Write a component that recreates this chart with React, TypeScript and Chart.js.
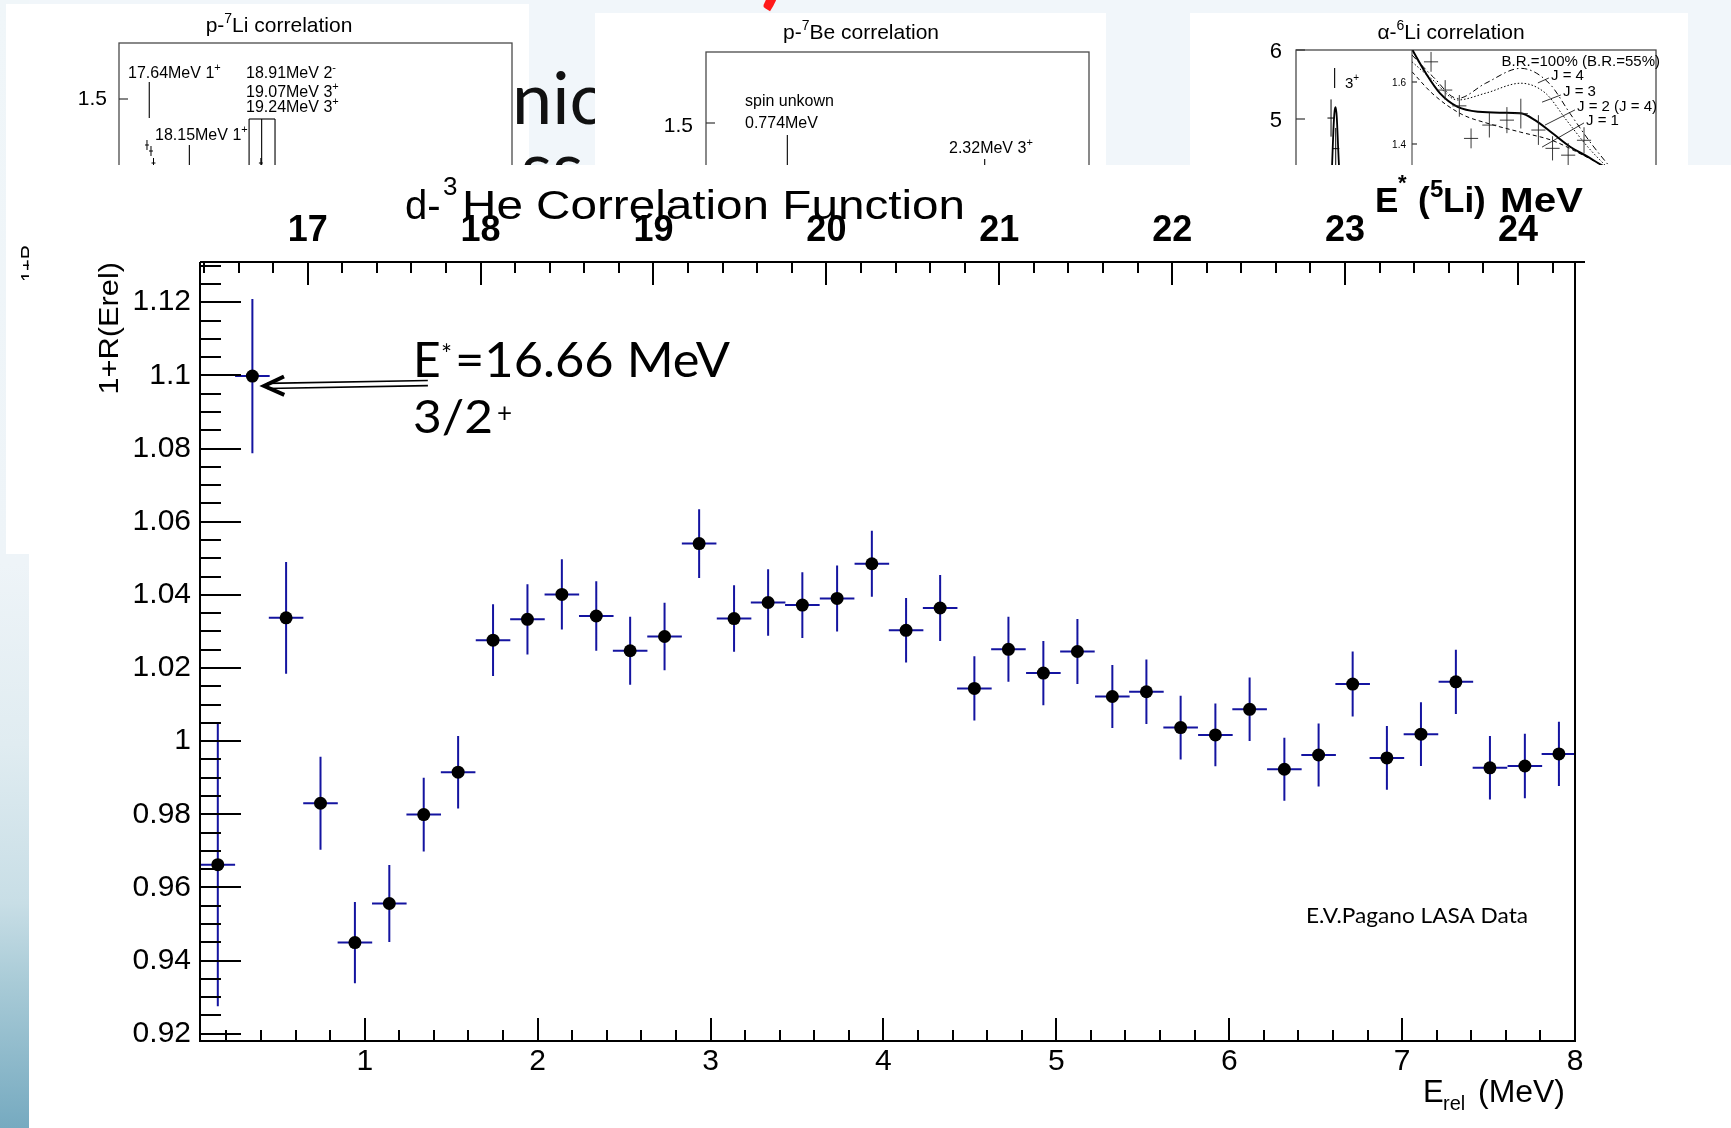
import React, { useEffect, useRef } from "react";
import { Chart, registerables } from "chart.js";

Chart.register(...registerables);

const SANS = '"Liberation Sans", Arial, Helvetica, sans-serif';
const SLIDE = 'Lato, "Open Sans", sans-serif';
const ERR_BLUE = "#1414a0";

Chart.defaults.font.family = SANS;
Chart.defaults.color = "#000";

// ---------- d-3He correlation function (0.2 MeV bins) ----------
const eRel = [
  0.15, 0.35, 0.545, 0.744, 0.943, 1.142, 1.341, 1.54, 1.742, 1.941,
  2.14, 2.339, 2.535, 2.734, 2.934, 3.136, 3.333, 3.531, 3.732, 3.933,
  4.131, 4.328, 4.526, 4.723, 4.925, 5.122, 5.324, 5.521, 5.719, 5.92,
  6.118, 6.319, 6.517, 6.714, 6.912, 7.109, 7.311, 7.508, 7.71, 7.907,
];
const corr = [
  0.9662, 1.0998, 1.0337, 0.983, 0.9449, 0.9556, 0.9799, 0.9915, 1.0276, 1.0333,
  1.0401, 1.0342, 1.0247, 1.0286, 1.054, 1.0335, 1.0379, 1.0372, 1.039, 1.0485,
  1.0303, 1.0364, 1.0144, 1.0251, 1.0186, 1.0245, 1.0122, 1.0135, 1.0037, 1.0017,
  1.0087, 0.9923, 0.9962, 1.0156, 0.9954, 1.0019, 1.0162, 0.9927, 0.9932, 0.9965,
];
const corrErr = [
  0.0387, 0.0211, 0.0153, 0.0127, 0.0111, 0.0105, 0.0101, 0.0099, 0.0098, 0.0096,
  0.0096, 0.0095, 0.0093, 0.0092, 0.0094, 0.0091, 0.0091, 0.009, 0.009, 0.009,
  0.0088, 0.009, 0.0088, 0.0089, 0.0088, 0.0089, 0.0086, 0.0088, 0.0087, 0.0086,
  0.0087, 0.0086, 0.0086, 0.0089, 0.0087, 0.0087, 0.0088, 0.0087, 0.0088, 0.0088,
];
const eRelHalfBin = 0.1;

const eRelTicks = [1, 2, 3, 4, 5, 6, 7, 8];
const eStarTicks = [17, 18, 19, 20, 21, 22, 23, 24];
const corrTicks = [0.92, 0.94, 0.96, 0.98, 1, 1.02, 1.04, 1.06, 1.08, 1.1, 1.12];

const E_REL_MIN = 0.047;
const E_REL_MAX = 8;
const E_STAR_SHIFT = 16.33; // E*(5Li) = Erel + shift
const CORR_MIN = 0.918;
const CORR_MAX = 1.131;
const CORR_MAJOR = 0.02;
const CORR_MINOR = 0.005;
const E_MINOR = 0.2;

// arrow pointing at the 16.66 MeV state
const arrowTip = { x: 0.418, y: 1.0971 };
const arrowTail = { x: 1.365, y: 1.0979 };

// ---------- p-7Li inset (E* of 8Be) ----------
const li7Levels = [17.64, 18.15, 18.91, 19.07, 19.24];
const li7LevelTop = [1.5425, 1.385, 1.45, 1.45, 1.45];
const li7LevelBottom = [1.4525, 0.5, 0.5, 0.5, 0.5];
const li7PointE = [17.611, 17.662, 17.694, 19.06];
const li7PointC = [1.385, 1.37, 1.34, 1.34];
const li7PointErr = [0.0125, 0.0125, 0.0125, 0.0125];

// ---------- p-7Be inset (E* of 8B) ----------
const be7Levels = [0.774, 2.32];
const be7LevelTop = [1.47, 1.41];
const be7LevelBottom = [0.8, 0.8];

// ---------- alpha-6Li inset ----------
const li6LevelX = [0.322];
const li6LevelTop = [5.739];
const li6LevelBottom = [5.449];
const li6PeakX = [0.28, 0.3, 0.312, 0.322, 0.331, 0.34, 0.352, 0.37, 0.39];
const li6PeakY = [3.6, 4.3, 4.85, 5.12, 5.17, 5.02, 4.55, 3.9, 3.4];
const li6OuterX = [0.292, 0.331];
const li6OuterY = [5.014, 4.57];
const li6OuterErrY = [0.27, 0.3];
const li6OuterErrX = [0.03, 0.03];

// zoomed panel: model curves for the different spins
const j2X = [0, 0.57, 1.15, 1.87, 2.73, 3.74, 4.46, 5.04, 5.76, 6.48, 7.2, 7.77, 8.6];
const j2Y = [1.7055, 1.628, 1.5635, 1.52, 1.504, 1.501, 1.499, 1.477, 1.4345, 1.391, 1.359, 1.332, 1.3];
const j3X = [0, 0.86, 1.87, 3.02, 4.46, 5.47, 6.33, 7.2, 7.91, 8.6];
const j3Y = [1.665, 1.606, 1.542, 1.564, 1.596, 1.564, 1.477, 1.391, 1.332, 1.28];
const j4X = [0, 0.86, 1.87, 3.02, 4.46, 5.62, 6.48, 7.34, 8.05, 8.7];
const j4Y = [1.687, 1.617, 1.547, 1.596, 1.644, 1.596, 1.498, 1.402, 1.332, 1.27];
const j1X = [0, 0.86, 2.01, 3.17, 4.46, 5.76, 6.91, 7.77, 8.5];
const j1Y = [1.633, 1.561, 1.497, 1.465, 1.438, 1.411, 1.368, 1.332, 1.3];
const li6InnerX = [0.78, 1.36, 1.94, 2.42, 3.17, 3.89, 4.46, 5.18, 5.76, 6.4, 7.05];
const li6InnerY = [1.665, 1.574, 1.523, 1.418, 1.461, 1.477, 1.498, 1.445, 1.386, 1.364, 1.412];
const li6InnerErrY = [0.032, 0.032, 0.035, 0.032, 0.04, 0.042, 0.048, 0.048, 0.039, 0.039, 0.042];
const li6InnerErrX = [0.29, 0.29, 0.29, 0.29, 0.29, 0.29, 0.29, 0.29, 0.29, 0.29, 0.29];
// label leader lines [x0, y0, x1, y1]
const leaderJ4 = [5.61, 1.613, 5.16, 1.597];
const leaderJ3 = [6.1, 1.558, 5.33, 1.535];
const leaderJ2 = [6.68, 1.51, 5.45, 1.461];
const leaderJ1 = [7.05, 1.468, 5.33, 1.39];

// ---------- layout boxes (page pixels) ----------
const MAIN = { left: 29, top: 165, width: 1702, height: 963 };
const BOX_A = { left: 6, top: 4, width: 523, height: 550, canvasH: 550 };
const BOX_B = { left: 595, top: 13, width: 511, height: 152, canvasH: 400 };
const BOX_C = { left: 1190, top: 13, width: 498, height: 152, canvasH: 400 };
const BOX_C_IN = { left: 1380, top: 50, width: 310, height: 115, canvasH: 300 };

type TextOpts = {
  size: number;
  bold?: boolean;
  family?: string;
  align?: "left" | "right" | "center";
  color?: string;
  width?: number;
  sx?: number;
  rotate?: number;
  weight?: number;
};

function drawText(ctx: CanvasRenderingContext2D, text: string, x: number, y: number, o: TextOpts) {
  ctx.save();
  ctx.font = `${o.bold ? "bold " : o.weight ? o.weight + " " : ""}${o.size}px ${o.family ?? SANS}`;
  ctx.fillStyle = o.color ?? "#000";
  ctx.textBaseline = "alphabetic";
  ctx.textAlign = "left";
  const w = ctx.measureText(text).width;
  const sx = o.width ? o.width / w : o.sx ?? 1;
  ctx.translate(x, y);
  if (o.rotate) ctx.rotate(o.rotate);
  let dx = 0;
  if (o.align === "right") dx = -w * sx;
  else if (o.align === "center") dx = (-w * sx) / 2;
  ctx.translate(dx, 0);
  ctx.scale(sx, 1);
  ctx.fillText(text, 0, 0);
  ctx.restore();
  return w * sx;
}

type Part = { t: string; size: number; dy?: number };
function drawRich(ctx: CanvasRenderingContext2D, parts: Part[], x: number, y: number, align: "left" | "center" = "left") {
  ctx.save();
  const widths = parts.map((p) => {
    ctx.font = `${p.size}px ${SANS}`;
    return ctx.measureText(p.t).width;
  });
  const total = widths.reduce((s, w) => s + w, 0);
  let cx = align === "center" ? x - total / 2 : x;
  parts.forEach((p, i) => {
    drawText(ctx, p.t, cx, y + (p.dy ?? 0), { size: p.size });
    cx += widths[i];
  });
  ctx.restore();
}

function segment(xs: number[], ys: number[], width = 1.2, dash: number[] = [], smooth = false) {
  return {
    data: xs.map((x, i) => ({ x, y: ys[i] })),
    showLine: true,
    borderColor: "#000",
    borderWidth: width,
    borderDash: dash,
    pointRadius: 0,
    tension: smooth ? 0.4 : 0,
    cubicInterpolationMode: smooth ? "monotone" : "default",
    fill: false,
  };
}

function levelSegments(xs: number[], tops: number[], bottoms: number[]) {
  return xs.map((x, i) => segment([x, x], [tops[i], bottoms[i]], 1.1));
}

function drawCrosses(chart: any, xs: number[], ys: number[], ex: number[], ey: number[], color = "#000", lw = 1) {
  const { ctx, scales } = chart;
  const sx = scales.x;
  const sy = scales.y;
  ctx.save();
  ctx.strokeStyle = color;
  ctx.lineWidth = lw;
  ctx.beginPath();
  xs.forEach((x, i) => {
    const px = sx.getPixelForValue(x);
    const py = sy.getPixelForValue(ys[i]);
    ctx.moveTo(px, sy.getPixelForValue(ys[i] - ey[i]));
    ctx.lineTo(px, sy.getPixelForValue(ys[i] + ey[i]));
    ctx.moveTo(sx.getPixelForValue(x - ex[i]), py);
    ctx.lineTo(sx.getPixelForValue(x + ex[i]), py);
  });
  ctx.stroke();
  ctx.restore();
}

function insetConfig(opts: {
  xMin: number; xMax: number; yMin: number; yMax: number;
  padding: { left: number; top: number; right: number; bottom: number };
  datasets: any[];
  draw: (chart: any) => void;
}) {
  return {
    type: "scatter",
    data: { datasets: opts.datasets },
    options: {
      responsive: false,
      animation: false,
      devicePixelRatio: 1,
      events: [],
      layout: { padding: opts.padding, autoPadding: false },
      plugins: { legend: { display: false }, tooltip: { enabled: false }, title: { display: false } },
      scales: {
        x: { type: "linear", min: opts.xMin, max: opts.xMax, display: false },
        y: { type: "linear", min: opts.yMin, max: opts.yMax, display: false },
      },
    },
    plugins: [{ id: "insetDecor", afterDraw: (chart: any) => opts.draw(chart) }],
  } as any;
}

function frame(chart: any, color = "#4a4a4a", lw = 1.3) {
  const { ctx, chartArea: a } = chart;
  ctx.save();
  ctx.strokeStyle = color;
  ctx.lineWidth = lw;
  ctx.strokeRect(a.left, a.top, a.right - a.left, a.bottom - a.top);
  ctx.restore();
}

function yTick(chart: any, v: number, len = 9) {
  const { ctx, chartArea: a, scales } = chart;
  const p = scales.y.getPixelForValue(v);
  ctx.save();
  ctx.strokeStyle = "#333";
  ctx.lineWidth = 1.2;
  ctx.beginPath();
  ctx.moveTo(a.left, p);
  ctx.lineTo(a.left + len, p);
  ctx.stroke();
  ctx.restore();
}

// ---------- inset configurations ----------
const makeInsetA = () =>
  insetConfig({
    xMin: 17.255, xMax: 22.255, yMin: 0.4475, yMax: 1.64,
    padding: { left: 113, top: 39, right: 17, bottom: 34 },
    datasets: [
      ...levelSegments(li7Levels, li7LevelTop, li7LevelBottom),
      segment([li7Levels[2], li7Levels[4]], [li7LevelTop[2], li7LevelTop[4]], 1.1),
    ],
    draw: (chart) => {
      const ctx = chart.ctx as CanvasRenderingContext2D;
      frame(chart);
      yTick(chart, 1.5);
      drawCrosses(chart, li7PointE, li7PointC, li7PointE.map(() => 0.025), li7PointErr);
      ctx.save();
      ctx.translate(-BOX_A.left, -BOX_A.top);
      drawRich(ctx, [{ t: "p-", size: 21 }, { t: "7", size: 14, dy: -9 }, { t: "Li correlation", size: 21 }], 279, 32, "center");
      drawText(ctx, "1.5", 107, 105, { size: 21, align: "right" });
      drawRich(ctx, [{ t: "17.64MeV 1", size: 16 }, { t: "+", size: 11, dy: -7 }], 128, 78);
      drawRich(ctx, [{ t: "18.91MeV 2", size: 16 }, { t: "-", size: 11, dy: -7 }], 246, 78);
      drawRich(ctx, [{ t: "19.07MeV 3", size: 16 }, { t: "+", size: 11, dy: -7 }], 246, 96.5);
      drawRich(ctx, [{ t: "19.24MeV 3", size: 16 }, { t: "+", size: 11, dy: -7 }], 246, 111.5);
      drawRich(ctx, [{ t: "18.15MeV 1", size: 16 }, { t: "+", size: 11, dy: -7 }], 155, 140);
      drawText(ctx, "1+R", 35, 282, { size: 20, rotate: -Math.PI / 2 });
      ctx.restore();
    },
  });

const makeInsetB = () =>
  insetConfig({
    xMin: 0.137, xMax: 3.137, yMin: 0.775, yMax: 1.6775,
    padding: { left: 111, top: 39, right: 17, bottom: 0 },
    datasets: levelSegments(be7Levels, be7LevelTop, be7LevelBottom),
    draw: (chart) => {
      const ctx = chart.ctx as CanvasRenderingContext2D;
      frame(chart);
      yTick(chart, 1.5);
      ctx.save();
      ctx.translate(-BOX_B.left, -BOX_B.top);
      drawRich(ctx, [{ t: "p-", size: 21 }, { t: "7", size: 14, dy: -9 }, { t: "Be correlation", size: 21 }], 861, 39, "center");
      drawText(ctx, "1.5", 693, 131.5, { size: 21, align: "right" });
      drawText(ctx, "spin unkown", 745, 106, { size: 16 });
      drawText(ctx, "0.774MeV", 745, 128, { size: 16 });
      drawRich(ctx, [{ t: "2.32MeV 3", size: 16 }, { t: "+", size: 11, dy: -7 }], 949, 153);
      ctx.restore();
    },
  });

const makeInsetC = () =>
  insetConfig({
    xMin: 0, xMax: 3, yMin: 0.739, yMax: 6,
    padding: { left: 106, top: 37, right: 32, bottom: 0 },
    datasets: [
      ...levelSegments(li6LevelX, li6LevelTop, li6LevelBottom),
      segment(li6PeakX, li6PeakY, 1.8, [], true),
    ],
    draw: (chart) => {
      const ctx = chart.ctx as CanvasRenderingContext2D;
      frame(chart);
      yTick(chart, 6);
      yTick(chart, 5);
      drawCrosses(chart, li6OuterX, li6OuterY, li6OuterErrX, li6OuterErrY);
      ctx.save();
      ctx.translate(-BOX_C.left, -BOX_C.top);
      drawRich(ctx, [{ t: "\u03b1-", size: 21 }, { t: "6", size: 14, dy: -9 }, { t: "Li correlation", size: 21 }], 1451, 39, "center");
      drawText(ctx, "6", 1282, 58, { size: 22, align: "right" });
      drawText(ctx, "5", 1282, 127, { size: 22, align: "right" });
      drawRich(ctx, [{ t: "3", size: 15 }, { t: "+", size: 10, dy: -7 }], 1345, 88);
      ctx.restore();
    },
  });

const makeInsetCInner = () =>
  insetConfig({
    xMin: 0, xMax: 10, yMin: 0.7355, yMax: 1.7032,
    padding: { left: 32, top: 0, right: 34, bottom: 0 },
    datasets: [
      segment(j4X, j4Y, 1, [6, 3, 1.5, 3], true),
      segment(j3X, j3Y, 1, [1.5, 2], true),
      segment(j2X, j2Y, 2, [], true),
      segment(j1X, j1Y, 1, [4, 3], true),
      segment([leaderJ4[0], leaderJ4[2]], [leaderJ4[1], leaderJ4[3]], 0.8),
      segment([leaderJ3[0], leaderJ3[2]], [leaderJ3[1], leaderJ3[3]], 0.8),
      segment([leaderJ2[0], leaderJ2[2]], [leaderJ2[1], leaderJ2[3]], 0.8),
      segment([leaderJ1[0], leaderJ1[2]], [leaderJ1[1], leaderJ1[3]], 0.8),
    ],
    draw: (chart) => {
      const ctx = chart.ctx as CanvasRenderingContext2D;
      const a = chart.chartArea;
      ctx.save();
      ctx.strokeStyle = "#333";
      ctx.lineWidth = 1;
      ctx.beginPath();
      ctx.moveTo(a.left, a.top);
      ctx.lineTo(a.left, a.bottom);
      ctx.stroke();
      ctx.restore();
      yTick(chart, 1.6, 5);
      yTick(chart, 1.4, 5);
      drawCrosses(chart, li6InnerX, li6InnerY, li6InnerErrX, li6InnerErrY, "#222", 0.9);
      ctx.save();
      ctx.translate(-BOX_C_IN.left, -BOX_C_IN.top);
      drawText(ctx, "1.6", 1406, 85.5, { size: 10, align: "right" });
      drawText(ctx, "1.4", 1406, 147.5, { size: 10, align: "right" });
      drawText(ctx, "B.R.=100% (B.R.=55%)", 1660, 66, { size: 15, align: "right" });
      drawText(ctx, "J = 4", 1551, 80, { size: 15 });
      drawText(ctx, "J = 3", 1563, 96, { size: 15 });
      drawText(ctx, "J = 2 (J = 4)", 1577, 111, { size: 15 });
      drawText(ctx, "J = 1", 1586, 125, { size: 15 });
      ctx.restore();
    },
  });

// ---------- main chart ----------
function isMultiple(v: number, step: number) {
  const r = v / step;
  return Math.abs(r - Math.round(r)) < 1e-6;
}

const errorBarPlugin = {
  id: "errorBars",
  beforeDatasetsDraw(chart: any) {
    const { ctx, chartArea: a, scales } = chart;
    const sx = scales.x;
    const sy = scales.y;
    ctx.save();
    ctx.beginPath();
    ctx.rect(a.left, a.top, a.right - a.left, a.bottom - a.top);
    ctx.clip();
    ctx.strokeStyle = ERR_BLUE;
    ctx.lineWidth = 2;
    ctx.beginPath();
    eRel.forEach((e, i) => {
      const px = sx.getPixelForValue(e);
      const py = sy.getPixelForValue(corr[i]);
      ctx.moveTo(px, sy.getPixelForValue(corr[i] - corrErr[i]));
      ctx.lineTo(px, sy.getPixelForValue(corr[i] + corrErr[i]));
      ctx.moveTo(sx.getPixelForValue(e - eRelHalfBin), py);
      ctx.lineTo(sx.getPixelForValue(e + eRelHalfBin), py);
    });
    ctx.stroke();
    ctx.restore();
  },
};

const axesPlugin = {
  id: "rootAxes",
  afterDraw(chart: any) {
    const { ctx, chartArea: a, scales } = chart;
    const sx = scales.x;
    const sx2 = scales.x2;
    const sy = scales.y;
    ctx.save();
    ctx.strokeStyle = "#000";
    ctx.lineWidth = 2;

    // frame
    ctx.beginPath();
    ctx.moveTo(a.left, a.top);
    ctx.lineTo(a.right + 10, a.top);
    ctx.moveTo(a.left, a.top);
    ctx.lineTo(a.left, a.bottom);
    ctx.lineTo(a.right, a.bottom);
    ctx.lineTo(a.right, a.top);
    ctx.stroke();

    // inward ticks
    ctx.beginPath();
    for (let k = Math.ceil(CORR_MIN / CORR_MINOR - 1e-6); k * CORR_MINOR <= CORR_MAX + 1e-9; k++) {
      const v = k * CORR_MINOR;
      const p = Math.round(sy.getPixelForValue(v));
      const len = isMultiple(v, CORR_MAJOR) ? 41 : 21;
      ctx.moveTo(a.left, p);
      ctx.lineTo(a.left + len, p);
    }
    for (let k = Math.ceil(E_REL_MIN / E_MINOR - 1e-6); k * E_MINOR <= E_REL_MAX + 1e-9; k++) {
      const v = k * E_MINOR;
      const p = Math.round(sx.getPixelForValue(v));
      const len = isMultiple(v, 1) ? 23 : 11;
      ctx.moveTo(p, a.bottom);
      ctx.lineTo(p, a.bottom - len);
    }
    const sMin = E_REL_MIN + E_STAR_SHIFT;
    const sMax = E_REL_MAX + E_STAR_SHIFT;
    for (let k = Math.ceil(sMin / E_MINOR - 1e-6); k * E_MINOR <= sMax + 1e-9; k++) {
      const v = k * E_MINOR;
      const p = Math.round(sx2.getPixelForValue(v));
      const len = isMultiple(v, 1) ? 23 : 11;
      ctx.moveTo(p, a.top);
      ctx.lineTo(p, a.top + len);
    }
    ctx.stroke();

    // arrow to the 16.66 MeV level
    const tx = sx.getPixelForValue(arrowTip.x);
    const ty = sy.getPixelForValue(arrowTip.y);
    const ex = sx.getPixelForValue(arrowTail.x);
    const ey = sy.getPixelForValue(arrowTail.y);
    const ang = Math.atan2(ey - ty, ex - tx);
    const nx = -Math.sin(ang);
    const ny = Math.cos(ang);
    ctx.lineWidth = 1.6;
    ctx.beginPath();
    for (const s of [-2.6, 2.6]) {
      ctx.moveTo(tx + 3 * Math.cos(ang) + s * nx, ty + 3 * Math.sin(ang) + s * ny);
      ctx.lineTo(ex + s * nx, ey + s * ny);
    }
    ctx.stroke();
    ctx.lineWidth = 4;
    ctx.lineJoin = "miter";
    ctx.beginPath();
    ctx.moveTo(tx + 22 * Math.cos(ang + 0.43), ty + 22 * Math.sin(ang + 0.43));
    ctx.lineTo(tx, ty);
    ctx.lineTo(tx + 22 * Math.cos(ang - 0.43), ty + 22 * Math.sin(ang - 0.43));
    ctx.stroke();

    // titles and notes (page coordinates)
    ctx.translate(-MAIN.left, -MAIN.top);
    drawText(ctx, "d-", 405, 219, { size: 40 });
    drawText(ctx, "3", 443, 195, { size: 26 });
    drawText(ctx, "He Correlation Function", 462, 219, { size: 41, width: 503 });

    drawText(ctx, "E", 1375, 212, { size: 35, bold: true });
    drawText(ctx, "*", 1398, 190, { size: 22, bold: true });
    drawText(ctx, "(", 1418, 212, { size: 35, bold: true });
    drawText(ctx, "5", 1430, 197, { size: 24, bold: true });
    drawText(ctx, "Li)", 1443, 212, { size: 35, bold: true });
    drawText(ctx, "MeV", 1500, 212, { size: 35, bold: true, width: 83 });

    drawText(ctx, "E", 1423, 1102, { size: 31 });
    drawText(ctx, "rel", 1443, 1110, { size: 20 });
    drawText(ctx, "(MeV)", 1478, 1102, { size: 31, width: 87 });

    drawText(ctx, "1+R(Erel)", 118, 262, { size: 27, align: "right", rotate: -Math.PI / 2, sx: 1.14 });

    drawText(ctx, "E.V.Pagano LASA Data", 1306, 923, { size: 21, family: SLIDE, width: 222 });

    drawText(ctx, "E", 413, 377, { size: 48, family: SLIDE });
    drawText(ctx, "*", 441, 364, { size: 26, family: SLIDE });
    drawText(ctx, "=16.66 MeV", 455, 377, { size: 48, family: SLIDE, width: 275 });
    drawText(ctx, "3/2", 413, 433, { size: 46, family: SLIDE, width: 80 });
    drawText(ctx, "+", 497, 422, { size: 26, family: SLIDE });
    ctx.restore();
  },
};

const makeMain = () =>
  ({
    type: "scatter",
    data: {
      datasets: [
        {
          data: eRel.map((x, i) => ({ x, y: corr[i] })),
          pointRadius: 6.5,
          pointBackgroundColor: "#000",
          pointBorderColor: "#000",
          pointBorderWidth: 0,
          showLine: false,
        },
      ],
    },
    options: {
      responsive: false,
      animation: false,
      devicePixelRatio: 1,
      events: [],
      layout: { padding: { left: 0, top: 0, right: 156, bottom: 0 }, autoPadding: false },
      plugins: { legend: { display: false }, tooltip: { enabled: false }, title: { display: false } },
      scales: {
        x: {
          type: "linear",
          position: "bottom",
          min: E_REL_MIN,
          max: E_REL_MAX,
          afterBuildTicks: (s: any) => {
            s.ticks = eRelTicks.map((value) => ({ value }));
          },
          afterFit: (s: any) => {
            s.height = 87;
          },
          grid: { display: false, drawTicks: false },
          border: { display: false },
          ticks: {
            autoSkip: false,
            maxRotation: 0,
            padding: 3,
            color: "#000",
            font: { family: SANS, size: 30 },
            callback: (v: any) => String(v),
          },
        },
        x2: {
          type: "linear",
          axis: "x",
          position: "top",
          min: E_REL_MIN + E_STAR_SHIFT,
          max: E_REL_MAX + E_STAR_SHIFT,
          afterBuildTicks: (s: any) => {
            s.ticks = eStarTicks.map((value) => ({ value }));
          },
          afterFit: (s: any) => {
            s.height = 97;
          },
          grid: { display: false, drawTicks: false },
          border: { display: false },
          ticks: {
            autoSkip: false,
            maxRotation: 0,
            padding: 9,
            color: "#000",
            font: { family: SANS, size: 36, weight: "bold" },
            callback: (v: any) => String(v),
          },
        },
        y: {
          type: "linear",
          min: CORR_MIN,
          max: CORR_MAX,
          afterBuildTicks: (s: any) => {
            s.ticks = corrTicks.map((value) => ({ value }));
          },
          afterFit: (s: any) => {
            s.width = 171;
          },
          grid: { display: false, drawTicks: false },
          border: { display: false },
          ticks: {
            autoSkip: false,
            padding: 9,
            color: "#000",
            font: { family: SANS, size: 30 },
            callback: (v: any) => String(Number(Number(v).toFixed(3))),
          },
        },
      },
    },
    plugins: [errorBarPlugin, axesPlugin],
  }) as any;

function Panel(props: {
  box: { left: number; top: number; width: number; height: number; canvasH: number };
  z: number;
  bg?: string;
  make: () => any;
}) {
  const ref = useRef<HTMLCanvasElement>(null);
  const { box, z, bg, make } = props;
  useEffect(() => {
    const chart = new Chart(ref.current as HTMLCanvasElement, make());
    return () => chart.destroy();
  }, [make]);
  return (
    <div
      style={{
        position: "absolute",
        left: box.left,
        top: box.top,
        width: box.width,
        height: box.height,
        overflow: "hidden",
        background: bg ?? "transparent",
        zIndex: z,
      }}
    >
      <canvas
        ref={ref}
        width={box.width}
        height={box.canvasH}
        style={{ display: "block", width: box.width, height: box.canvasH }}
      />
    </div>
  );
}

export default function App() {
  return (
    <div
      style={{
        position: "fixed",
        left: 0,
        top: 0,
        width: 1731,
        height: 1128,
        overflow: "hidden",
        background: "#f1f6fa",
      }}
    >
      <div
        style={{
          position: "absolute",
          left: 0,
          top: 0,
          width: 29,
          height: 1128,
          background:
            "linear-gradient(to bottom, #f0f6f9 0%, #eef4f8 50%, #e0ecf1 66%, #c8dee6 80%, #a9cbd7 87%, #76aac0 100%)",
        }}
      />
      <Panel box={BOX_A} z={1} bg="#fff" make={makeInsetA} />
      <svg
        width={1731}
        height={1128}
        style={{ position: "absolute", left: 0, top: 0, zIndex: 2 }}
      >
        <text x={512} y={124} fontFamily={SLIDE} fontWeight={400} fontSize={72} fill="#111">
          nic
        </text>
        <text x={521} y={193} fontFamily={SLIDE} fontWeight={400} fontSize={72} fill="#111">
          ss
        </text>
        <text x={761} y={-3} fontFamily={SLIDE} fontWeight={700} fontSize={90} fill="#ff1a1a">
          )
        </text>
      </svg>
      <Panel box={BOX_B} z={3} bg="#fff" make={makeInsetB} />
      <Panel box={BOX_C} z={3} bg="#fff" make={makeInsetC} />
      <Panel box={BOX_C_IN} z={4} make={makeInsetCInner} />
      <Panel box={{ ...MAIN, canvasH: MAIN.height }} z={5} bg="#fff" make={makeMain} />
    </div>
  );
}
